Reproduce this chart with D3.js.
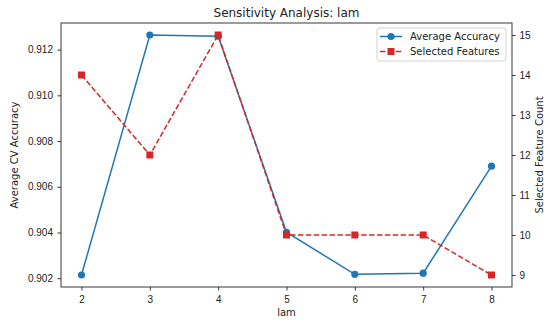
<!DOCTYPE html>
<html>
<head>
<meta charset="utf-8">
<script src="https://cdn.jsdelivr.net/npm/d3@7"></script>
<style>
  body { margin: 0; background: #fff; }
  svg { font-family: "DejaVu Sans", sans-serif; }
</style>
</head>
<body>
<div class="chart"></div>
<script>
// DATA ------------------------------
const lam = [2, 3, 4, 5, 6, 7, 8];
const avgAccuracy = [0.90214, 0.91264, 0.91259, 0.90401, 0.90217, 0.90222, 0.90690];
const selectedFeatures = [14, 12, 15, 10, 10, 10, 9];
const xTicks = [2, 3, 4, 5, 6, 7, 8];
const yLeftTicks = [0.902, 0.904, 0.906, 0.908, 0.910, 0.912];
const yRightTicks = [9, 10, 11, 12, 13, 14, 15];

const blue = "#1f77b4";
const red = "#d62728";

// CHART INIT ------------------------------
const margin = {top: 23, right: 38, bottom: 35, left: 61};
const width = 550 - margin.left - margin.right;
const height = 322 - margin.top - margin.bottom;

const svg = d3.select(".chart").append("svg")
  .attr("width", 550)
  .attr("height", 322)
  .append("g")
  .attr("transform", "translate(" + margin.left + "," + margin.top + ")");

// matplotlib style 5% margins
function pad(ext) {
  const m = (ext[1] - ext[0]) * 0.05;
  return [ext[0] - m, ext[1] + m];
}

const xScale = d3.scaleLinear().domain(pad(d3.extent(lam))).range([0, width]);
const yScale = d3.scaleLinear().domain(pad(d3.extent(avgAccuracy))).range([height, 0]);
const y2Scale = d3.scaleLinear().domain(pad(d3.extent(selectedFeatures))).range([height, 0]);

// axes
const xAxis = d3.axisBottom(xScale).tickValues(xTicks).tickFormat(d3.format("d")).tickSizeOuter(0).tickSize(3.5).tickPadding(5);
const yAxis = d3.axisLeft(yScale).tickValues(yLeftTicks).tickFormat(d3.format(".3f")).tickSizeOuter(0).tickSize(3.5).tickPadding(4.5);
const y2Axis = d3.axisRight(y2Scale).tickValues(yRightTicks).tickFormat(d3.format("d")).tickSizeOuter(0).tickSize(3.5).tickPadding(4);

svg.append("g").attr("class", "x-axis")
  .attr("transform", `translate(0, ${height})`).call(xAxis);
svg.append("g").attr("class", "y-axis").call(yAxis);
svg.append("g").attr("class", "y2-axis")
  .attr("transform", `translate(${width}, 0)`).call(y2Axis);

svg.selectAll(".domain").remove();
svg.selectAll(".tick text").attr("font-size", 10).attr("fill", "#222");
svg.selectAll(".tick line").attr("stroke", "#222").attr("stroke-width", 0.9);

// frame (spines)
svg.append("rect")
  .attr("width", width).attr("height", height)
  .attr("fill", "none").attr("stroke", "#222").attr("stroke-width", 0.9);

// lines
const accLine = d3.line().x((d, i) => xScale(lam[i])).y(d => yScale(d));
const featLine = d3.line().x((d, i) => xScale(lam[i])).y(d => y2Scale(d));

svg.append("path")
  .datum(avgAccuracy)
  .attr("d", accLine)
  .attr("fill", "none").attr("stroke", blue).attr("stroke-width", 1.5);

svg.selectAll(".acc-dot")
  .data(avgAccuracy).enter()
  .append("circle")
  .attr("class", "acc-dot")
  .attr("cx", (d, i) => xScale(lam[i]))
  .attr("cy", d => yScale(d))
  .attr("r", 3.6)
  .attr("fill", blue);

svg.append("path")
  .datum(selectedFeatures)
  .attr("d", featLine)
  .attr("fill", "none").attr("stroke", red).attr("stroke-width", 1.5)
  .attr("stroke-dasharray", "5.5,2.4");

const sq = 7;
svg.selectAll(".feat-sq")
  .data(selectedFeatures).enter()
  .append("rect")
  .attr("class", "feat-sq")
  .attr("x", (d, i) => xScale(lam[i]) - sq / 2)
  .attr("y", d => y2Scale(d) - sq / 2)
  .attr("width", sq).attr("height", sq)
  .attr("fill", red);

// titles
svg.append("text")
  .attr("x", width / 2).attr("y", -6)
  .attr("text-anchor", "middle")
  .attr("font-size", 12).attr("fill", "#222")
  .text("Sensitivity Analysis: lam");

svg.append("text")
  .attr("x", width / 2).attr("y", height + 29)
  .attr("text-anchor", "middle")
  .attr("font-size", 10).attr("fill", "#222")
  .text("lam");

svg.append("text")
  .attr("transform", `translate(${-43}, ${height / 2}) rotate(-90)`)
  .attr("text-anchor", "middle")
  .attr("font-size", 10).attr("fill", "#222")
  .text("Average CV Accuracy");

svg.append("text")
  .attr("transform", `translate(${width + 31}, ${height / 2}) rotate(-90)`)
  .attr("text-anchor", "middle")
  .attr("font-size", 10).attr("fill", "#222")
  .text("Selected Feature Count");

// legend
const legend = svg.append("g")
  .attr("transform", `translate(${width - 135}, 5)`);

legend.append("rect")
  .attr("width", 129).attr("height", 33)
  .attr("rx", 2.5)
  .attr("fill", "#fff").attr("fill-opacity", 0.8)
  .attr("stroke", "#ccc").attr("stroke-width", 0.9);

const items = [
  {label: "Average Accuracy", color: blue, dash: null, marker: "circle"},
  {label: "Selected Features", color: red, dash: "5.5,2.4", marker: "square"}
];

items.forEach((it, i) => {
  const g = legend.append("g").attr("transform", `translate(3, ${8.5 + i * 15})`);
  g.append("line")
    .attr("x1", 0).attr("x2", 22).attr("y1", 0).attr("y2", 0)
    .attr("stroke", it.color).attr("stroke-width", 1.5)
    .attr("stroke-dasharray", it.dash);
  if (it.marker === "circle") {
    g.append("circle").attr("cx", 11).attr("cy", 0).attr("r", 3.6).attr("fill", it.color);
  } else {
    g.append("rect").attr("x", 11 - sq / 2).attr("y", -sq / 2)
      .attr("width", sq).attr("height", sq).attr("fill", it.color);
  }
  g.append("text")
    .attr("x", 30).attr("y", 3.6)
    .attr("font-size", 10).attr("fill", "#222")
    .text(it.label);
});
</script>
</body>
</html>
